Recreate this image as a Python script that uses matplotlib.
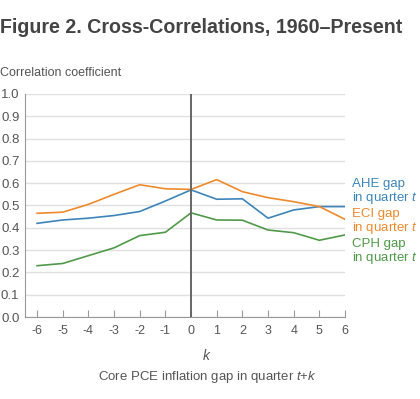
import matplotlib
matplotlib.use("Agg")
import matplotlib.pyplot as plt
import numpy as np

plt.rcParams["font.family"] = ["Liberation Sans", "DejaVu Sans"]
plt.rcParams["mathtext.fontset"] = "custom"
plt.rcParams["mathtext.rm"] = "Liberation Sans"
plt.rcParams["mathtext.it"] = "Liberation Sans:italic"
plt.rcParams["axes.unicode_minus"] = False

lags = list(range(-6, 7))
ahe = [0.42, 0.435, 0.443, 0.455, 0.473, 0.52, 0.57, 0.528, 0.53, 0.443, 0.48, 0.495, 0.495]
eci = [0.465, 0.47, 0.505, 0.55, 0.593, 0.575, 0.572, 0.616, 0.562, 0.535, 0.517, 0.495, 0.438]
cph = [0.23, 0.24, 0.275, 0.31, 0.365, 0.38, 0.467, 0.435, 0.434, 0.39, 0.378, 0.344, 0.368]

series = [
    ("AHE gap\nin quarter $t$", ahe, "#3d85b9"),
    ("ECI gap\nin quarter $t$", eci, "#ee8a2c"),
    ("CPH gap\nin quarter $t$", cph, "#4f9a48"),
]

TXT = "#555555"

fig = plt.figure(figsize=(4.2, 3.99), dpi=100)
ax = fig.add_axes([0.0595, 0.2055, 0.762, 0.559])

for label, vals, color in series:
    ax.plot(lags, vals, color=color, linewidth=1.2, zorder=3)

ax.axvline(0, color="#666666", linewidth=1.4, zorder=4)

ax.set_xlim(-6.47, 6)
ax.set_ylim(0, 1.0)
ax.set_yticks(np.arange(0, 1.01, 0.1))
ax.set_yticklabels([f"{v:.1f}" for v in np.arange(0, 1.01, 0.1)])
ax.set_xticks(lags)
ax.grid(axis="y", color="#e0e0e0", linewidth=1.0)
ax.set_axisbelow(True)

for s in ["top", "right"]:
    ax.spines[s].set_visible(False)
ax.spines["left"].set_color("#999999")
ax.spines["bottom"].set_color("#999999")
ax.tick_params(axis="x", direction="in", length=5, color="#999999", labelcolor=TXT, labelsize=9, pad=6)
ax.tick_params(axis="y", length=0, labelcolor=TXT, labelsize=9.5, pad=4)

# right-side labels, centred at pixel rows 192, 222, 252
for (label, vals, color), yy in zip(series, [(317 - 192) / 223, (317 - 222) / 223, (317 - 252) / 223]):
    ax.text(1.022, yy, label, transform=ax.transAxes, color=color, fontsize=9.5,
            va="center", ha="left", linespacing=1.0)

fig.text(0.0, 0.93, "Figure 2. Cross-Correlations, 1960\u2013Present", fontsize=14.1,
         fontweight="bold", color="#444444", va="center", ha="left")
fig.text(0.0, 0.817, "Correlation coefficient", fontsize=9, color=TXT, va="center", ha="left")
fig.text(0.493, 0.11, "$k$", fontsize=10, color=TXT, ha="center", va="center")
fig.text(0.493, 0.055, "Core PCE inflation gap in quarter $t$+$k$", fontsize=9.5, color=TXT,
         ha="center", va="center")

fig.savefig("out.png", dpi=100)
